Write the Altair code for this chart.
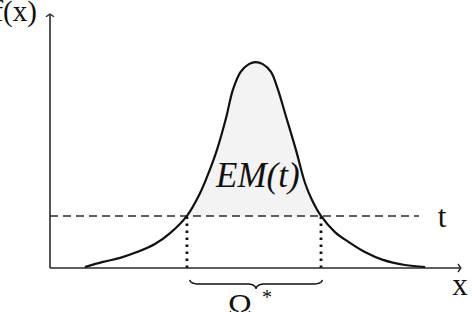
import altair as alt
import numpy as np
import pandas as pd

# ---- data (x: 0..10 along the axis, y: 0..10 up the axis)
curve_x = [0.85, 1.29, 1.71, 2.12, 2.56, 2.93, 3.34, 3.66, 3.83, 4.07, 4.30, 4.46,
           4.65, 4.85, 5.02, 5.19, 5.39, 5.55, 5.76, 6.00, 6.22, 6.39, 6.61, 6.95,
           7.32, 7.68, 8.12, 8.66, 9.15]
curve_y = [0.04, 0.24, 0.40, 0.63, 0.95, 1.38, 2.06, 2.96, 3.60, 4.66, 5.97, 7.04,
           7.75, 8.06, 8.14, 8.06, 7.75, 7.10, 5.97, 4.66, 3.36, 2.69, 2.06, 1.42,
           0.99, 0.63, 0.32, 0.12, 0.04]
t_level = 2.06
x_left, x_right = 3.34, 6.61
dash_end = 9.0
x_axis_end = 10.02
y_axis_end = 10.04

labels_upright = ["f(x)", "t", "x"]
label_upright_x = [-0.32, 9.56, 10.0]
label_upright_y = [9.76, 1.62, -1.07]

XS = alt.Scale(domain=[-1.2195, 10.2927], nice=False, zero=False)
YS = alt.Scale(domain=[-1.739, 10.593], nice=False, zero=False)
INK = "#111111"
AX = "#2a2a2a"
SERIF = "'Liberation Serif', 'Times New Roman', 'DejaVu Serif', serif"
INTERP = "catmull-rom"

curve = pd.DataFrame({"x": curve_x, "y": curve_y})


def X(f="x"):
    return alt.X(f, type="quantitative", scale=XS, axis=None)


def Y(f="y"):
    return alt.Y(f, type="quantitative", scale=YS, axis=None)


# shaded EM(t) region
area_df = curve[(curve.x >= x_left) & (curve.x <= x_right)].copy()
area_df["t"] = t_level
area = alt.Chart(area_df).mark_area(color="#f3f3f3", interpolate=INTERP).encode(
    x=X(), y=Y(), y2="t"
)

# dashed level line
dash_df = pd.DataFrame({"x": [0.0], "x2": [dash_end], "y": [t_level]})
dashed = alt.Chart(dash_df).mark_rule(color=AX, strokeWidth=1.5, strokeDash=[8, 5]).encode(
    x=X(), x2="x2", y=Y()
)

# dotted verticals
dots_df = pd.DataFrame({"x": [x_left, x_right], "y0": [0.0, 0.0], "y1": [t_level, t_level]})
dotted = alt.Chart(dots_df).mark_rule(color=INK, strokeWidth=2.8, strokeDash=[2.6, 4.4],
                                      strokeCap="butt").encode(
    x=X(), y=Y("y0"), y2="y1"
)

# axes
xax_df = pd.DataFrame({"x": [0.0], "x2": [x_axis_end], "y": [0.0]})
x_axis = alt.Chart(xax_df).mark_rule(color=AX, strokeWidth=1.6).encode(
    x=X(), x2="x2", y=Y()
)
yax_df = pd.DataFrame({"x": [0.0], "y": [0.0], "y2": [y_axis_end]})
y_axis = alt.Chart(yax_df).mark_rule(color=AX, strokeWidth=1.6).encode(
    x=X(), y=Y(), y2="y2"
)
up_df = pd.DataFrame({"x": [0.0], "y": [y_axis_end]})
arrow_up = alt.Chart(up_df).mark_point(shape="M-1,0.7L0,0L1,0.7", filled=False, size=64,
                                       strokeWidth=1.4, color=AX, opacity=1).encode(
    x=X(), y=Y()
)
rt_df = pd.DataFrame({"x": [x_axis_end], "y": [0.0]})
arrow_right = alt.Chart(rt_df).mark_point(shape="M-0.7,-1L0,0L-0.7,1", filled=False, size=64,
                                          strokeWidth=1.4, color=AX, opacity=1).encode(
    x=X(), y=Y()
)

# main curve
line = alt.Chart(curve).mark_line(color=INK, strokeWidth=2.2, interpolate=INTERP).encode(
    x=X(), y=Y()
)

# brace under Omega*
r = 0.2
y_top, y_mid, y_tip = -0.47, -0.63, -0.83
a = x_left + 0.07
b = x_right + 0.03
mid = (a + b) / 2
th = np.linspace(0, np.pi / 2, 12)
left_x = np.concatenate([a + r * (1 - np.cos(th)), mid - r + r * np.sin(th)])
left_y = np.concatenate([y_top + (y_mid - y_top) * np.sin(th),
                         y_mid + (y_tip - y_mid) * (1 - np.cos(th))])
rx = (2 * mid - left_x)[::-1]
ry = left_y[::-1]
px = np.concatenate([left_x, rx])
py = np.concatenate([left_y, ry])
brace_df = pd.DataFrame({"x": px, "y": py, "o": np.arange(len(px))})
brace = alt.Chart(brace_df).mark_line(color=INK, strokeWidth=1.5).encode(
    x=X(), y=Y(), order="o:Q"
)

# labels
lab_df = pd.DataFrame({"label": labels_upright, "x": label_upright_x, "y": label_upright_y})
lab_left = alt.Chart(lab_df.iloc[[0]]).mark_text(font=SERIF, fontSize=29, align="right",
                                                 baseline="alphabetic", color=INK).encode(
    x=X(), y=Y(), text="label")
lab_center = alt.Chart(lab_df.iloc[[1, 2]]).mark_text(font=SERIF, fontSize=31, align="center",
                                                      baseline="alphabetic", color=INK).encode(
    x=X(), y=Y(), text="label")

em_df = pd.DataFrame({"label": ["EM(t)"], "x": [5.07], "y": [3.2]})
em = alt.Chart(em_df).mark_text(font=SERIF, fontSize=35, fontStyle="italic", align="center",
                                baseline="alphabetic", color=INK).encode(
    x=X(), y=Y(), text="label")

om_df = pd.DataFrame({"label": ["Ω"], "x": [4.63], "y": [-1.90]})
omega = alt.Chart(om_df).mark_text(font=SERIF, fontSize=32, align="center",
                                   baseline="alphabetic", color=INK).encode(
    x=X(), y=Y(), text="label")
st_df = pd.DataFrame({"label": ["*"], "x": [5.29], "y": [-1.42]})
star = alt.Chart(st_df).mark_text(font=SERIF, fontSize=20, align="center",
                                  baseline="alphabetic", color=INK).encode(
    x=X(), y=Y(), text="label")

chart = alt.layer(
    area, dashed, dotted, x_axis, y_axis, arrow_up, arrow_right, line, brace,
    lab_left, lab_center, em, omega, star
).properties(
    width=472, height=312, padding=0, autosize=alt.AutoSizeParams(type="none"),
    background="white"
).configure_view(stroke=None)

chart.save("out.html", embed_options={"renderer": "svg", "actions": False})
